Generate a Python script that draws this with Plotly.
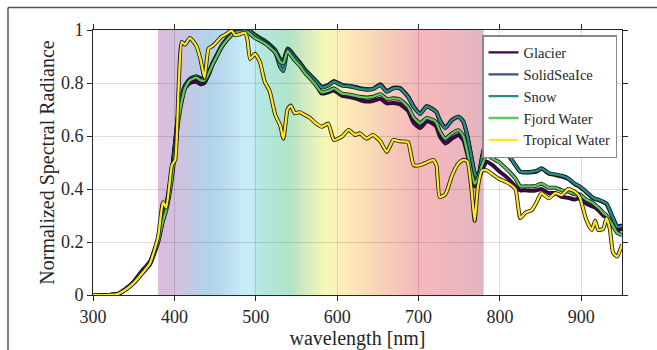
import plotly.graph_objects as go

wavelength = [300, 320, 330, 340, 350, 360, 370, 380, 386, 390, 397, 401, 405, 409, 413, 419, 427, 432, 437, 442,
              447, 452, 458, 464, 470, 475, 481, 487, 490, 493, 499, 505, 511, 517, 524, 530, 534, 539, 543, 548,
              554, 560, 566, 573, 581, 589, 596, 606, 614, 622, 628, 636, 644, 653, 661, 669, 677, 687, 694, 702,
              710, 718, 722, 726, 733, 741, 749, 755, 760, 765, 769, 773, 778, 784, 791, 798, 810, 819, 825, 831,
              839, 845, 851, 860, 868, 876, 884, 892, 898, 906, 913, 917, 921, 927, 931, 935, 939, 944, 950]

glacier = [0, 0, 0.003, 0.02, 0.045, 0.08, 0.115, 0.2, 0.29, 0.33, 0.46, 0.57, 0.68, 0.74, 0.78, 0.80, 0.805, 0.795, 0.80, 0.83,
           0.87, 0.90, 0.935, 0.96, 0.98, 0.99, 0.995, 0.998, 0.995, 0.99, 0.975, 0.965, 0.955, 0.94, 0.92, 0.89, 0.885, 0.925, 0.91, 0.89,
           0.87, 0.845, 0.825, 0.80, 0.76, 0.765, 0.772, 0.752, 0.748, 0.742, 0.736, 0.73, 0.732, 0.74, 0.723, 0.725, 0.72, 0.695, 0.65, 0.63,
           0.655, 0.645, 0.635, 0.60, 0.572, 0.59, 0.604, 0.585, 0.53, 0.46, 0.41, 0.43, 0.47, 0.503, 0.49, 0.47, 0.44, 0.41, 0.395, 0.395,
           0.393, 0.395, 0.40, 0.385, 0.385, 0.37, 0.367, 0.36, 0.365, 0.345, 0.335, 0.33, 0.32, 0.30, 0.295, 0.27, 0.26, 0.245, 0.25]

solid_sea_ice = [0, 0, 0.003, 0.022, 0.05, 0.09, 0.125, 0.21, 0.29, 0.34, 0.47, 0.58, 0.69, 0.75, 0.79, 0.815, 0.825, 0.818, 0.815, 0.84,
                 0.875, 0.905, 0.94, 0.965, 0.985, 0.993, 0.998, 1.0, 0.998, 0.995, 0.982, 0.97, 0.96, 0.945, 0.925, 0.89, 0.885, 0.93, 0.92, 0.9,
                 0.878, 0.853, 0.833, 0.812, 0.786, 0.793, 0.808, 0.793, 0.79, 0.786, 0.78, 0.777, 0.778, 0.795, 0.77, 0.782, 0.782, 0.75, 0.712, 0.686,
                 0.712, 0.70, 0.69, 0.66, 0.632, 0.66, 0.673, 0.655, 0.60, 0.52, 0.46, 0.445, 0.52, 0.588, 0.576, 0.558, 0.528, 0.49, 0.465, 0.462,
                 0.463, 0.466, 0.476, 0.458, 0.453, 0.447, 0.438, 0.418, 0.408, 0.388, 0.368, 0.362, 0.358, 0.35, 0.343, 0.318, 0.29, 0.26, 0.262]

snow = [0, 0, 0.003, 0.022, 0.05, 0.09, 0.125, 0.21, 0.29, 0.34, 0.47, 0.58, 0.69, 0.75, 0.79, 0.815, 0.825, 0.815, 0.815, 0.84,
        0.875, 0.905, 0.94, 0.965, 0.985, 0.993, 0.998, 1.0, 0.998, 0.995, 0.98, 0.965, 0.955, 0.94, 0.915, 0.86, 0.845, 0.925, 0.915, 0.895,
        0.875, 0.85, 0.83, 0.81, 0.783, 0.79, 0.805, 0.79, 0.788, 0.783, 0.778, 0.775, 0.777, 0.792, 0.767, 0.78, 0.78, 0.748, 0.71, 0.683,
        0.712, 0.70, 0.69, 0.66, 0.63, 0.66, 0.673, 0.655, 0.60, 0.52, 0.46, 0.44, 0.52, 0.59, 0.578, 0.56, 0.53, 0.49, 0.465, 0.463,
        0.465, 0.468, 0.478, 0.46, 0.455, 0.45, 0.44, 0.42, 0.41, 0.39, 0.37, 0.363, 0.36, 0.352, 0.345, 0.32, 0.29, 0.258, 0.26]

fjord_water = [0, 0, 0.003, 0.022, 0.048, 0.085, 0.12, 0.2, 0.28, 0.32, 0.44, 0.55, 0.66, 0.73, 0.78, 0.81, 0.82, 0.81, 0.81, 0.835,
               0.87, 0.90, 0.935, 0.96, 0.98, 0.99, 0.993, 0.995, 0.992, 0.985, 0.97, 0.96, 0.95, 0.935, 0.915, 0.88, 0.875, 0.92, 0.905, 0.885,
               0.865, 0.84, 0.82, 0.795, 0.765, 0.77, 0.78, 0.76, 0.757, 0.752, 0.748, 0.745, 0.748, 0.758, 0.74, 0.742, 0.738, 0.71, 0.67, 0.648,
               0.668, 0.66, 0.65, 0.62, 0.59, 0.61, 0.622, 0.60, 0.54, 0.46, 0.42, 0.44, 0.49, 0.528, 0.515, 0.503, 0.47, 0.44, 0.41, 0.41,
               0.41, 0.413, 0.42, 0.405, 0.405, 0.395, 0.39, 0.38, 0.38, 0.36, 0.35, 0.34, 0.33, 0.31, 0.30, 0.28, 0.26, 0.235, 0.226]

tropical_water = [0, 0, 0.003, 0.02, 0.045, 0.08, 0.12, 0.22, 0.35, 0.33, 0.49, 0.51, 0.77, 0.955, 0.945, 0.97, 0.94, 0.89, 0.82, 0.93,
                  0.94, 0.955, 0.975, 0.985, 0.998, 0.98, 0.985, 0.99, 0.96, 0.89, 0.91, 0.88, 0.805, 0.77, 0.68, 0.64, 0.59, 0.70, 0.715, 0.686,
                  0.69, 0.68, 0.67, 0.65, 0.635, 0.647, 0.585, 0.598, 0.623, 0.604, 0.61, 0.59, 0.604, 0.58, 0.54, 0.585, 0.58, 0.577, 0.49, 0.49,
                  0.50, 0.51, 0.49, 0.37, 0.38, 0.45, 0.497, 0.51, 0.505, 0.40, 0.28, 0.41, 0.47, 0.47, 0.455, 0.44, 0.423, 0.40, 0.29, 0.31,
                  0.32, 0.35, 0.384, 0.365, 0.384, 0.377, 0.40, 0.39, 0.37, 0.285, 0.245, 0.28, 0.245, 0.25, 0.29, 0.25, 0.16, 0.145, 0.19]

series_names = ["Glacier", "SolidSeaIce", "Snow", "Fjord Water", "Tropical Water"]
series_values = [glacier, solid_sea_ice, snow, fjord_water, tropical_water]
series_colors = ["#440154", "#3b528b", "#21908d", "#5dc863", "#fde725"]

x_ticks = [300, 400, 500, 600, 700, 800, 900]
y_ticks = [0, 0.2, 0.4, 0.6, 0.8, 1]
y_tick_labels = ["0", "0.2", "0.4", "0.6", "0.8", "1"]

# visible-spectrum background (style)
spectrum_stops = [(380, "#dcbcdc"), (400, "#d4c0e0"), (411, "#ccc4e0"), (431, "#b8d0e8"), (444, "#b0d4e8"),
                  (464, "#bcdcf0"), (485, "#c8ecf8"), (496, "#c6ecf6"), (503, "#b4e8e4"), (542, "#b0e4c8"),
                  (563, "#d8ecc0"), (588, "#f8f8b8"), (616, "#fce8b8"), (657, "#f8d0b8"), (698, "#f4b8bc"),
                  (720, "#f4b8bc"), (780, "#e4b4c0")]


def hex2rgb(h):
    h = h.lstrip("#")
    return [int(h[i:i + 2], 16) for i in (0, 2, 4)]


def color_at(w):
    for (w0, c0), (w1, c1) in zip(spectrum_stops[:-1], spectrum_stops[1:]):
        if w0 <= w <= w1:
            t = (w - w0) / (w1 - w0)
            a, b = hex2rgb(c0), hex2rgb(c1)
            r = [round(a[i] + (b[i] - a[i]) * t) for i in range(3)]
            return "rgb(%d,%d,%d)" % tuple(r)
    return spectrum_stops[-1][1]


shapes = []
step = 2
w = 380
while w < 780:
    shapes.append(dict(type="rect", xref="x", yref="y", x0=w, x1=min(w + step + 1, 780), y0=0, y1=1,
                       fillcolor=color_at(w + step / 2), line=dict(width=0), layer="below"))
    w += step

# outer frame (top and left edges visible)
L, R, T, B, W, H = 93, 35, 30, 55, 657, 350
pw, ph = W - L - R, H - T - B


def px_x(p):
    return (p - L) / pw


def px_y(p):
    return (ph + T - p) / ph


frame = dict(color="#555555", width=1.5)
shapes.append(dict(type="line", xref="paper", yref="paper", x0=px_x(8), x1=px_x(660), y0=px_y(7.5), y1=px_y(7.5),
                   line=frame, layer="above"))
shapes.append(dict(type="line", xref="paper", yref="paper", x0=px_x(8), x1=px_x(8), y0=px_y(7.5), y1=px_y(352),
                   line=frame, layer="above"))

fig = go.Figure()
for name, vals, col in zip(series_names, series_values, series_colors):
    fig.add_trace(go.Scatter(x=wavelength, y=vals, mode="lines",
                             line=dict(color="#1a1a1a", width=4.0, shape="spline", smoothing=0.5),
                             showlegend=False, hoverinfo="skip"))
    fig.add_trace(go.Scatter(x=wavelength, y=vals, mode="lines", name=name,
                             line=dict(color=col, width=2.3, shape="spline", smoothing=0.5)))

font_family = "Liberation Serif"
tick_font = dict(family=font_family, size=18, color="#262626")
title_font = dict(family=font_family, size=20, color="#262626")

fig.update_layout(
    width=W, height=H,
    margin=dict(l=L, r=R, t=T, b=B, autoexpand=False),
    paper_bgcolor="white", plot_bgcolor="rgba(0,0,0,0)",
    font=dict(family=font_family, size=18, color="#262626"),
    shapes=shapes,
    legend=dict(x=px_x(617), y=px_y(35), xanchor="right", yanchor="top",
                bgcolor="white", bordercolor="#888888", borderwidth=1.5,
                font=dict(family=font_family, size=14.5, color="#262626"),
                itemwidth=30, tracegroupgap=0),
    showlegend=True,
)

axis_common = dict(showline=True, linecolor="#262626", linewidth=1, mirror="ticks", ticks="outside",
                   ticklen=5, tickcolor="#262626", tickwidth=1, showgrid=True,
                   gridcolor="rgba(0,0,0,0.13)", gridwidth=1, zeroline=False, automargin=False,
                   tickfont=tick_font)
fig.update_xaxes(range=[300, 950], tickvals=x_ticks, ticktext=[str(v) for v in x_ticks],
                 title_text="wavelength [nm]", title_font=title_font, title_standoff=6, **axis_common)
fig.update_yaxes(range=[0, 1], tickvals=y_ticks, ticktext=y_tick_labels,
                 title_text="Normalized Spectral Radiance", title_font=title_font, title_standoff=0, **axis_common)

fig.write_html("out.html")
